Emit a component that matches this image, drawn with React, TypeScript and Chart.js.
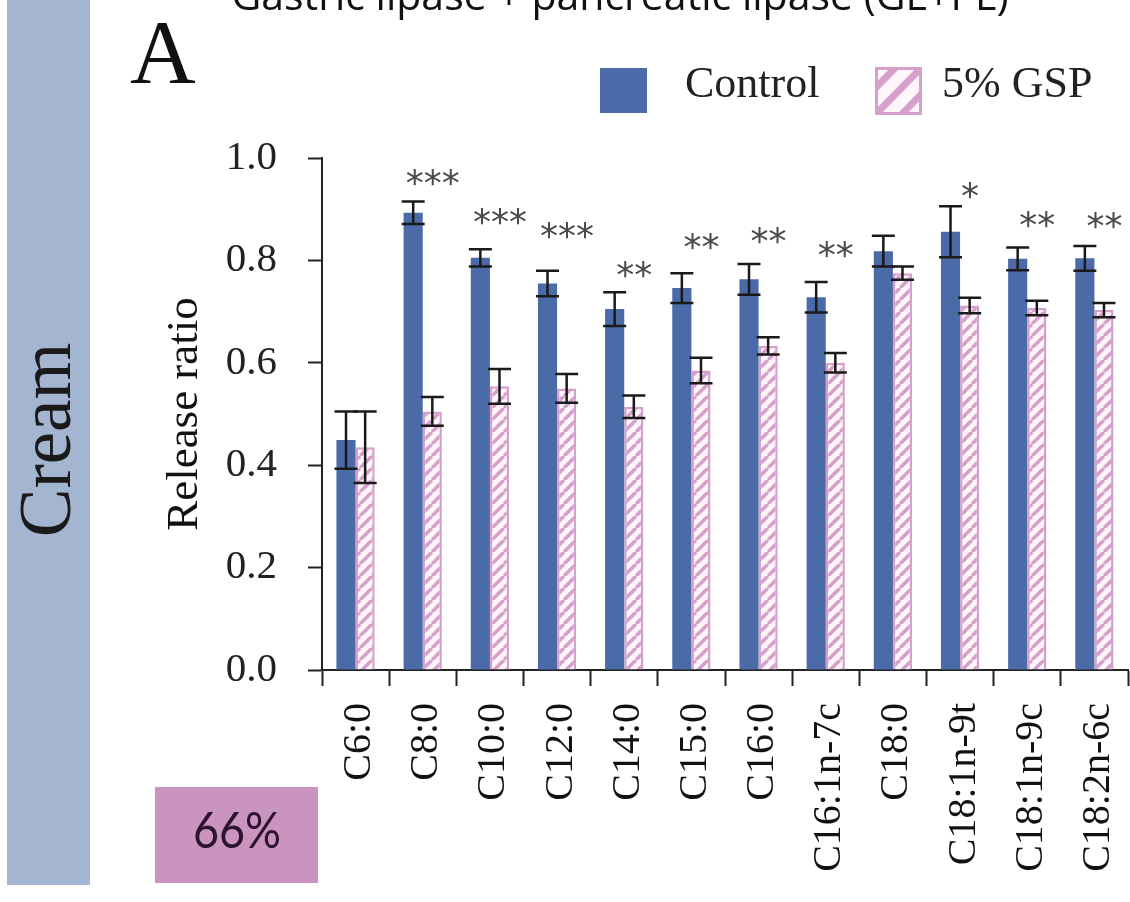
import React, { useEffect, useRef } from 'react';
import { Chart, registerables } from 'chart.js';

Chart.register(...registerables);

// ---------- data ----------
const categories = [
  'C6:0', 'C8:0', 'C10:0', 'C12:0', 'C14:0', 'C15:0',
  'C16:0', 'C16:1n-7c', 'C18:0', 'C18:1n-9t', 'C18:1n-9c', 'C18:2n-6c',
];
const controlValues = [0.449, 0.893, 0.805, 0.755, 0.705, 0.746, 0.763, 0.728, 0.818, 0.856, 0.803, 0.804];
const controlErrors = [0.056, 0.022, 0.017, 0.025, 0.033, 0.029, 0.030, 0.030, 0.030, 0.050, 0.022, 0.024];
const gspValues = [0.435, 0.505, 0.554, 0.550, 0.514, 0.585, 0.633, 0.600, 0.775, 0.712, 0.707, 0.703];
const gspErrors = [0.070, 0.028, 0.034, 0.028, 0.022, 0.025, 0.017, 0.019, 0.013, 0.015, 0.014, 0.014];
const significance = ['', '***', '***', '***', '**', '**', '**', '**', '', '*', '**', '**'];
const significanceLevels = [null, 0.962, 0.886, 0.858, 0.782, 0.837, 0.848, 0.821, null, 0.937, 0.88, 0.877];
const yTicks = [0, 0.2, 0.4, 0.6, 0.8, 1.0];
const seriesNames = ['Control', '5% GSP'];
const titleText = 'Gastric lipase + pancreatic lipase (GL+PL)';
const panelLetter = 'A';
const sideLabel = 'Cream';
const percentLabel = '66%';

// ---------- styles ----------
const BLUE = '#4a6ba7';
const PINK = '#d5a1ca';
const PINK_BG = '#fff6fc';
const SERIF = "'Liberation Serif', 'Times New Roman', serif";

function makeHatch(ctx: CanvasRenderingContext2D, size: number, lw: number) {
  const c = document.createElement('canvas');
  c.width = size;
  c.height = size;
  const p = c.getContext('2d')!;
  p.fillStyle = PINK_BG;
  p.fillRect(0, 0, size, size);
  p.strokeStyle = PINK;
  p.lineWidth = lw;
  for (const o of [-size, 0, size]) {
    p.beginPath();
    p.moveTo(o, size);
    p.lineTo(o + size, 0);
    p.stroke();
  }
  return ctx.createPattern(c, 'repeat')!;
}

const decorPlugin = {
  id: 'decor',
  beforeDraw(chart: any) {
    const { ctx } = chart;
    ctx.save();
    ctx.fillStyle = '#ffffff';
    ctx.fillRect(0, 0, chart.width, chart.height);
    // side band
    ctx.fillStyle = '#a4b5d1';
    ctx.fillRect(7, 0, 83, 885);
    // percent box
    ctx.fillStyle = '#c995be';
    ctx.fillRect(155, 787, 163, 96);
    ctx.restore();
  },
  afterDraw(chart: any) {
    const { ctx } = chart;
    ctx.save();
    // title (cut by the page top)
    ctx.fillStyle = '#111';
    ctx.font = "41px 'Open Sans', 'Noto Sans', sans-serif";
    ctx.textAlign = 'center';
    ctx.textBaseline = 'alphabetic';
    ctx.fillText(titleText, 620, 10);
    // panel letter
    ctx.font = `91px ${SERIF}`;
    ctx.textAlign = 'left';
    ctx.fillText(panelLetter, 130, 83);
    // side label
    ctx.save();
    ctx.translate(70, 440);
    ctx.rotate(-Math.PI / 2);
    ctx.textAlign = 'center';
    ctx.font = `73px ${SERIF}`;
    ctx.fillStyle = '#1a1a1a';
    ctx.fillText(sideLabel, 0, 0);
    ctx.restore();
    // percent label
    ctx.save();
    ctx.translate(237, 848);
    ctx.scale(0.88, 1);
    ctx.font = "51px Lato, 'Open Sans', sans-serif";
    ctx.fillStyle = '#2d1232';
    ctx.textAlign = 'center';
    ctx.fillText(percentLabel, 0, 0);
    ctx.restore();
    // legend
    ctx.fillStyle = BLUE;
    ctx.fillRect(600, 68, 47, 45);
    ctx.save();
    ctx.beginPath();
    ctx.rect(875, 67, 47, 48);
    ctx.clip();
    ctx.fillStyle = PINK_BG;
    ctx.fillRect(875, 67, 47, 48);
    ctx.strokeStyle = PINK;
    ctx.lineWidth = 7;
    for (const d of [-26, 0, 26]) {
      ctx.beginPath();
      ctx.moveTo(875 + d, 115);
      ctx.lineTo(922 + d, 67);
      ctx.stroke();
    }
    ctx.restore();
    ctx.strokeStyle = PINK;
    ctx.lineWidth = 3;
    ctx.strokeRect(876.5, 68.5, 44, 45);
    ctx.fillStyle = '#222';
    ctx.font = `44px ${SERIF}`;
    ctx.textAlign = 'left';
    ctx.fillText(seriesNames[0], 685, 97);
    ctx.fillText(seriesNames[1], 942, 97);
    ctx.restore();
  },
};

const errorBarPlugin = {
  id: 'errorBars',
  afterDatasetsDraw(chart: any) {
    const { ctx } = chart;
    const y = chart.scales.y;
    const x = chart.scales.x;
    const errs = [controlErrors, gspErrors];
    ctx.save();
    ctx.strokeStyle = '#1a1a1a';
    ctx.lineWidth = 2.5;
    chart.data.datasets.forEach((ds: any, di: number) => {
      const meta = chart.getDatasetMeta(di);
      meta.data.forEach((bar: any, i: number) => {
        const v = ds.data[i];
        const e = errs[di][i];
        const top = y.getPixelForValue(v + e);
        const bot = y.getPixelForValue(v - e);
        ctx.beginPath();
        ctx.moveTo(bar.x, top);
        ctx.lineTo(bar.x, bot);
        ctx.moveTo(bar.x - 11.5, top);
        ctx.lineTo(bar.x + 11.5, top);
        ctx.moveTo(bar.x - 11.5, bot);
        ctx.lineTo(bar.x + 11.5, bot);
        ctx.stroke();
      });
    });
    // significance marks
    ctx.fillStyle = '#4a4a4a';
    ctx.font = "36px 'DejaVu Sans', sans-serif";
    ctx.textAlign = 'center';
    ctx.textBaseline = 'alphabetic';
    const m = ctx.measureText('*');
    const asc = m.actualBoundingBoxAscent;
    const desc = m.actualBoundingBoxDescent;
    significance.forEach((s, i) => {
      const lvl = significanceLevels[i];
      if (!s || lvl == null) return;
      const cx = x.getPixelForValue(i) + 10;
      const cy = y.getPixelForValue(lvl);
      ctx.fillText(s, cx, cy + (asc - desc) / 2);
    });
    ctx.restore();
  },
};

export default function App() {
  const ref = useRef<HTMLCanvasElement>(null);
  useEffect(() => {
    const canvas = ref.current!;
    const ctx = canvas.getContext('2d')!;
    const hatch = makeHatch(ctx, 12, 3.5);
    const chart = new Chart(canvas, {
      type: 'bar',
      data: {
        labels: categories,
        datasets: [
          {
            label: seriesNames[0],
            data: controlValues,
            backgroundColor: BLUE,
            borderWidth: 0,
            categoryPercentage: 0.57,
            barPercentage: 1.0,
          },
          {
            label: seriesNames[1],
            data: gspValues,
            backgroundColor: hatch,
            borderColor: PINK,
            borderWidth: 2.5,
            categoryPercentage: 0.57,
            barPercentage: 1.0,
          },
        ],
      },
      options: {
        responsive: false,
        animation: false,
        devicePixelRatio: 1,
        layout: { padding: { left: 150, top: 158, right: 2, bottom: 0 } },
        plugins: {
          legend: { display: false },
          tooltip: { enabled: false },
          title: { display: false },
        },
        scales: {
          x: {
            offset: true,
            grid: {
              offset: true,
              drawOnChartArea: false,
              drawTicks: true,
              tickLength: 16,
              tickWidth: 2,
              tickColor: '#222',
            },
            border: { display: true, color: '#222', width: 2 },
            ticks: {
              autoSkip: false,
              maxRotation: 90,
              minRotation: 90,
              padding: 17,
              labelOffset: 4,
              color: '#111',
              font: { family: SERIF, size: 40 },
            },
            afterFit: (s: any) => {
              s.height = 232;
              s.paddingRight = 0;
              s.paddingLeft = 0;
            },
          },
          y: {
            min: 0,
            max: 1,
            afterBuildTicks: (s: any) => {
              s.ticks = yTicks.map((v) => ({ value: v }));
            },
            grid: {
              drawOnChartArea: false,
              tickLength: 14,
              tickWidth: 2,
              tickColor: '#222',
            },
            border: { color: '#222', width: 2 },
            ticks: {
              padding: 31,
              color: '#222',
              font: { family: SERIF, size: 41 },
              callback: (v: any) => Number(v).toFixed(1),
            },
            title: {
              display: true,
              text: 'Release ratio',
              color: '#111',
              font: { family: SERIF, size: 45 },
              padding: { top: 8, bottom: 0 },
            },
            afterFit: (s: any) => {
              s.width = 172;
            },
          },
        },
      },
      plugins: [decorPlugin, errorBarPlugin],
    } as any);
    return () => chart.destroy();
  }, []);
  return (
    <div style={{ position: 'absolute', left: 0, top: 0, width: 1130, height: 902, background: '#fff' }}>
      <canvas ref={ref} width={1130} height={902} style={{ display: 'block', width: 1130, height: 902 }} />
    </div>
  );
}
